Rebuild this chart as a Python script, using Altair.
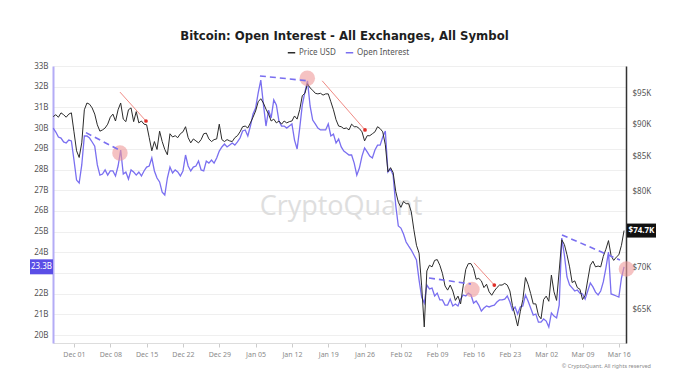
import altair as alt
import pandas as pd

# ---------------- data ----------------
start = "2025-11-27"          # first sample, 12-hour steps
price_k = [
    91.2, 91.5, 91.1, 91.8, 91.5, 91.1, 91.6, 91.8, 88.8, 85.9,
    84.9, 87.1, 92.3, 93.4, 93.2, 92.6, 91.6, 89.9, 88.9, 89.1,
    89.4, 90.0, 91.1, 91.6, 90.5, 92.3, 93.4, 90.8, 90.4, 92.3,
    92.6, 90.4, 92.0, 90.2, 90.5, 90.0, 89.9, 87.9, 85.9, 87.3,
    86.1, 88.9, 87.3, 86.1, 85.3, 88.5, 88.0, 88.2, 87.9, 88.5,
    88.8, 89.6, 87.9, 87.1, 87.7, 87.4, 87.1, 87.6, 88.5, 88.6,
    87.7, 87.3, 87.6, 87.7, 90.0, 87.6, 87.3, 87.6, 87.4, 87.3,
    87.9, 88.2, 88.8, 89.6, 89.7, 89.4, 90.2, 91.1, 92.1, 93.6,
    94.1, 93.4, 92.4, 91.6, 90.5, 90.8, 90.2, 90.5, 90.0, 90.5,
    90.2, 90.4, 90.5, 91.3, 90.8, 92.3, 94.6, 95.0, 96.6, 95.9,
    95.5, 95.0, 94.9, 95.0, 94.7, 94.9, 94.9, 93.6, 92.3, 90.7,
    89.7, 89.6, 89.3, 89.4, 89.1, 90.0, 89.6, 89.6, 89.3, 88.8,
    87.4, 88.2, 88.2, 88.5, 88.8, 89.6, 89.3, 88.8, 86.8, 82.8,
    83.4, 82.7, 80.0, 78.5, 77.8, 78.6, 78.3, 78.3, 77.2, 74.8,
    72.8, 71.8, 67.8, 63.1, 69.6, 70.3, 70.1, 70.9, 71.0, 70.3,
    69.3, 67.8, 67.3, 67.9, 67.2, 66.1, 66.6, 65.7, 67.8, 69.8,
    70.5, 70.5, 69.9, 68.6, 68.7, 68.4, 67.6, 68.0, 67.1, 66.7,
    67.2, 67.6, 67.9, 67.9, 68.1, 67.9, 67.2, 65.5, 64.4, 63.2,
    64.8, 66.2, 68.8, 68.0, 66.9, 65.7, 65.7, 64.4, 64.0, 66.2,
    66.6, 66.0, 69.1, 67.1, 66.1, 69.6, 73.5, 72.9, 71.6, 70.1,
    68.2, 68.4, 67.6, 67.4, 66.2, 66.7, 68.5, 70.3, 70.8, 70.1,
    70.2, 70.1, 71.4, 72.3, 73.4, 71.5, 70.9, 71.3, 71.6, 72.8,
    74.7,
]
oi_b = [
    30.00, 29.81, 29.57, 29.52, 29.33, 29.28, 29.42, 29.38, 28.46, 27.49,
    27.35, 28.22, 29.62, 29.62, 29.52, 29.33, 29.13, 28.22, 27.73, 27.78,
    27.98, 27.73, 27.93, 27.93, 27.69, 28.17, 28.94, 27.78, 27.88, 27.54,
    27.98, 27.88, 27.73, 27.88, 27.69, 27.93, 28.12, 28.17, 28.56, 27.93,
    27.59, 27.40, 26.91, 26.77, 27.59, 28.12, 27.83, 27.98, 27.88, 27.69,
    27.93, 28.70, 28.17, 27.93, 28.12, 28.17, 28.41, 27.98, 27.93, 28.41,
    28.31, 28.46, 28.31, 28.56, 28.89, 29.09, 29.23, 29.09, 29.18, 29.28,
    29.18, 29.33, 29.52, 29.86, 29.91, 29.62, 30.10, 30.68, 30.97, 31.70,
    32.32, 31.16, 30.10, 30.87, 30.49, 31.36, 31.12, 30.34, 30.10, 30.10,
    30.00, 30.10, 30.20, 29.42, 28.99, 30.00, 31.12, 31.74, 32.28, 31.07,
    30.39, 30.20, 30.00, 29.91, 29.91, 29.91, 30.20, 29.62, 29.71, 29.28,
    29.47, 29.09, 28.89, 28.80, 28.70, 28.70, 28.31, 27.73, 28.07, 28.65,
    29.04, 28.85, 28.65, 28.56, 28.94, 29.18, 29.18, 29.57, 29.86, 27.88,
    28.03, 27.73, 26.28, 25.27, 25.17, 24.88, 24.50, 24.30, 24.11, 23.87,
    23.63, 22.66, 21.84, 21.55, 22.42, 22.23, 22.27, 21.89, 22.03, 21.70,
    21.70, 21.45, 21.45, 21.74, 21.41, 21.50, 21.41, 21.74, 21.94, 21.89,
    22.03, 21.94, 21.55, 21.65, 21.45, 21.16, 21.31, 21.41, 21.36, 21.41,
    21.45, 21.60, 21.70, 21.70, 21.74, 21.89, 21.60, 21.21, 21.36, 21.02,
    21.36, 21.41, 21.94, 21.65, 21.31, 20.97, 21.02, 20.63, 20.63, 20.78,
    20.68, 20.39, 21.07, 20.92, 20.83, 21.45, 24.69, 23.87, 22.81, 22.42,
    22.28, 22.13, 22.18, 22.03, 21.99, 21.74, 22.13, 22.52, 22.33, 22.08,
    21.94, 22.13, 22.57, 23.24, 24.01, 21.99, 21.94, 21.89, 21.84, 22.76,
    23.30,
]

series_names = ["Price USD", "Open Interest"]
oi_ticks = list(range(20, 34))
price_ticks = [65, 70, 80, 85, 90, 95]
tick_days = [(2025, 12, 1), (2025, 12, 8), (2025, 12, 15), (2025, 12, 22), (2025, 12, 29),
             (2026, 1, 5), (2026, 1, 12), (2026, 1, 19), (2026, 1, 26), (2026, 2, 2),
             (2026, 2, 9), (2026, 2, 16), (2026, 2, 23), (2026, 3, 2), (2026, 3, 9), (2026, 3, 16)]

# annotations
dash_seg = [1, 1, 2, 2, 3, 3, 4, 4]
dash_date = ["2025-12-03T07:30:00", "2025-12-09T17:30:00", "2026-01-05T20:00:00", "2026-01-14T20:00:00",
             "2026-02-07T10:00:00", "2026-02-15T12:00:00", "2026-03-05T01:00:00", "2026-03-16T05:00:00"]
dash_oi = [29.78, 28.94, 32.52, 32.29, 22.76, 22.47, 24.84, 23.63]

circle_date = ["2025-12-09T20:40:00", "2026-01-14T23:00:00", "2026-02-15T16:30:00", "2026-03-17T11:00:00"]
circle_oi = [28.80, 32.41, 22.20, 23.20]

arrow_seg = [1, 1, 2, 2, 3, 3]
arrow_date = ["2025-12-09T20:40:00", "2025-12-14T21:00:00", "2026-01-17T20:00:00", "2026-01-26T02:00:00",
              "2026-02-16T02:00:00", "2026-02-20T00:00:00"]
arrow_price = [95.2, 90.5, 97.1, 89.1, 70.6, 67.9]

# ---------------- tables ----------------
df = pd.DataFrame({
    "date": pd.date_range(start, periods=len(price_k), freq="12h"),
    "price": price_k,
    "oi": oi_b,
})
dash_df = pd.DataFrame({"seg": dash_seg, "date": dash_date, "oi": dash_oi})
circle_df = pd.DataFrame({"date": circle_date, "oi": circle_oi})
arrow_df = pd.DataFrame({"seg": arrow_seg, "date": arrow_date, "price": arrow_price})
dot_df = arrow_df.iloc[1::2]
last_oi_df = pd.DataFrame({"oi": [oi_b[-1]], "label": [f"{oi_b[-1]:.1f}B"]})
last_price_df = pd.DataFrame({"price": [price_k[-1]], "label": [f"${price_k[-1]:.1f}K"]})

# ---------------- scales ----------------
x_scale = alt.Scale(domain=[alt.DateTime(year=2025, month=11, date=26, hours=23),
                            alt.DateTime(year=2026, month=3, date=17, hours=9)])
oi_scale = alt.Scale(domain=[19.62, 33], nice=False, zero=False)
price_scale = alt.Scale(type="log", domain=[61.35, 99.65], nice=False)
color_scale = alt.Scale(domain=series_names, range=["#2b2b2b", "#7a6ff0"])

FONT = "Noto Sans"

x_axis = alt.Axis(values=[alt.DateTime(year=y, month=m, date=d) for y, m, d in tick_days],
                  format="%b %d", labelFontSize=7, labelColor="#8a8a8a", labelFont=FONT,
                  domainColor="#dddddd", tickColor="#cccccc", tickSize=4, labelPadding=3,
                  grid=False, labelFlush=False)
x_enc = alt.X("date:T", scale=x_scale, title=None, axis=x_axis)

legend = alt.Legend(orient="none", legendX=234, legendY=-18, direction="horizontal",
                    title=None, symbolType="stroke", symbolStrokeWidth=1.5, symbolSize=55,
                    labelFontSize=8, labelColor="#555555", labelFont=FONT, columnPadding=6,
                    labelOffset=3)

base = alt.Chart(df)

oi_line = base.mark_line(strokeWidth=1.3).transform_calculate(series="'Open Interest'").encode(
    x=x_enc,
    y=alt.Y("oi:Q", scale=oi_scale, title=None,
            axis=alt.Axis(orient="left", values=oi_ticks,
                          labelExpr="datum.value == 23 ? '' : datum.value + 'B'",
                          labelFontSize=8, labelColor="#555555", labelFont=FONT, ticks=False,
                          domainColor="#b4acf6", domainWidth=2, grid=True, gridColor="#efefef",
                          labelPadding=5)),
    color=alt.Color("series:N", scale=color_scale, legend=legend),
)

price_line = base.mark_line(strokeWidth=1).transform_calculate(series="'Price USD'").encode(
    x=x_enc,
    y=alt.Y("price:Q", scale=price_scale, title=None,
            axis=alt.Axis(orient="right", values=price_ticks, labelExpr="'$' + datum.value + 'K'",
                          labelFontSize=8, labelColor="#555555", labelFont=FONT, ticks=False,
                          domainColor="#333333", domainWidth=1.5, grid=False, labelPadding=6)),
    color=alt.Color("series:N", scale=color_scale, legend=legend),
)

dashes = alt.Chart(dash_df).mark_line(color="#7a6ff0", strokeWidth=1.6, strokeDash=[6, 4]).encode(
    x=x_enc, y=alt.Y("oi:Q", scale=oi_scale, axis=None), detail="seg:N")

circles = alt.Chart(circle_df).mark_point(filled=True, color="#ef9a9a", opacity=0.6, size=240).encode(
    x=x_enc, y=alt.Y("oi:Q", scale=oi_scale, axis=None))

arrows = alt.Chart(arrow_df).mark_line(color="#f08a84", strokeWidth=1).encode(
    x=x_enc, y=alt.Y("price:Q", scale=price_scale, axis=None), detail="seg:N")

dots = alt.Chart(dot_df).mark_point(filled=True, color="#e0302a", opacity=1, size=14).encode(
    x=x_enc, y=alt.Y("price:Q", scale=price_scale, axis=None))

oi_box = alt.Chart(last_oi_df).mark_point(
    shape="M-1,-0.652H1V0.652H-1Z", filled=True, color="#5a4ee6", opacity=1, size=529
).encode(x=alt.value(-11.5), y=alt.Y("oi:Q", scale=oi_scale, axis=None))
oi_text = alt.Chart(last_oi_df).mark_text(color="white", fontSize=8, font=FONT).encode(
    x=alt.value(-11.5), y=alt.Y("oi:Q", scale=oi_scale, axis=None), text="label:N")

price_box = alt.Chart(last_price_df).mark_point(
    shape="M-1,-0.483H1V0.483H-1Z", filled=True, color="#111111", opacity=1, size=841
).encode(x=alt.value(588.5), y=alt.Y("price:Q", scale=price_scale, axis=None))
price_text = alt.Chart(last_price_df).mark_text(color="white", fontSize=8, font=FONT, fontWeight="bold").encode(
    x=alt.value(588.5), y=alt.Y("price:Q", scale=price_scale, axis=None), text="label:N")

watermark = alt.Chart(pd.DataFrame({"t": ["CryptoQuant"]})).mark_text(
    fontSize=27, color="#dedede", font="Open Sans", fontWeight=500
).encode(x=alt.value(288), y=alt.value(141), text="t:N")

copyright_txt = alt.Chart(pd.DataFrame({"t": ["© CryptoQuant. All rights reserved"]})).mark_text(
    fontSize=5.5, color="#8a8a8a", font=FONT, align="right"
).encode(x=alt.value(598), y=alt.value(300), text="t:N")

chart = alt.layer(
    watermark, oi_line, price_line, circles, dashes, arrows, dots,
    oi_box, oi_text, price_box, price_text, copyright_txt,
).resolve_scale(y="independent").properties(
    width=573, height=277,
    autosize=alt.AutoSizeParams(type="none"),
    padding={"left": 53, "top": 66, "right": 66, "bottom": 33},
    title=alt.TitleParams("Bitcoin: Open Interest - All Exchanges, All Symbol",
                          font="DejaVu Sans Condensed, Lato, sans-serif", fontSize=13,
                          fontWeight="bold", color="#1e1e1e", anchor="middle",
                          frame="group", offset=5, dx=5),
).configure_view(stroke=None)

chart.save("out.html", embed_options={"renderer": "svg", "actions": False})
